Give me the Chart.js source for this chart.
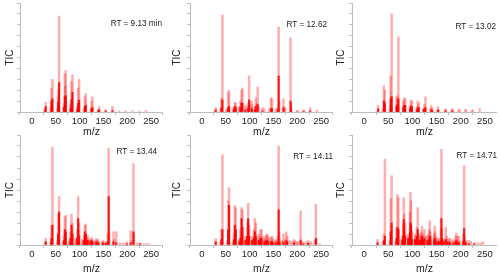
<!DOCTYPE html>
<html>
<head>
<meta charset="utf-8">
<script src="https://cdn.jsdelivr.net/npm/chart.js@4.4.1/dist/chart.umd.min.js"></script>
<style>
  body { margin: 0; width: 500px; height: 275px; background: #fff; position: relative; overflow: hidden;
         font-family: "Liberation Sans", Arial, sans-serif; }
  .panel { position: absolute; }
  .rt { position: absolute; font-size: 8.2px; line-height: 10px; color: #222; white-space: nowrap; transform: translate(-100%, -50%); }
</style>
</head>
<body>
<script>
// retention time of each spectrum
const rtLabels = ['RT = 9.13 min', 'RT = 12.62', 'RT = 13.02', 'RT = 13.44', 'RT = 14.11', 'RT = 14.71'];
const mzTicks = [0, 50, 100, 150, 200, 250];

// [m/z, TIC %] - pale (full height) peaks and the dense dark core below them
const peaks913 = [[27,3],[29,9],[39,4],[41,22],[42,6],[43,30],[53,3],[55,20],[56,14],[57,88],[67,8],[68,5],[69,35],[70,24],[71,38],
  [81,7],[82,5],[83,28],[84,12],[85,34],[95,5],[96,3],[97,22],[98,8],[99,30],[109,3],[111,14],[112,6],[113,17],[123,2],[125,10],
  [126,4],[127,14],[139,2],[140,2],[141,5],[153,1],[155,2],[169,5],[183,1],[197,1.2],[211,1],[225,0.8],[239,1.5]];
const core913 = [[27,1],[29,5],[41,10],[42,3],[43,12],[55,9],[56,6],[57,27],[67,4],[69,14],[70,10],[71,15],[81,3],[83,11],[84,5],
  [85,18],[95,2],[97,8],[98,3],[99,11],[111,5],[113,6],[125,3],[127,4],[139,1],[141,2],[155,1],[169,1.5]];

const peaks1262 = [[27,1],[29,4],[39,3],[41,13],[43,89],[51,2],[53,3],[55,18],[57,20],[65,3],[67,5],[69,9],[71,8],[77,4],[79,5],
  [81,10],[83,20],[85,22],[91,6],[95,5],[97,8],[99,33],[100,6],[104,10],[105,7],[111,5],[113,13],[115,8],[117,23],[119,5],[127,4],
  [131,3],[141,3],[145,13],[147,12],[155,3],[159,4],[161,78],[162,10],[171,12],[173,5],[175,3],[186,68],[187,8],[199,1],[201,1.5],
  [213,2],[215,1],[227,4],[241,1.5]];
const core1262 = [[29,2],[41,4],[43,11],[55,4],[57,5],[67,2],[69,5],[71,4],[81,4],[83,8],[85,8],[91,2],[97,3],[99,11],[105,3],
  [111,2],[113,5],[117,7],[127,1],[145,3],[147,3],[159,2],[161,33],[171,4],[186,10],[187,2],[213,0.5],[227,1]];

const peaks1302 = [[27,1],[29,6],[39,3],[41,24],[42,6],[43,20],[53,3],[55,33],[56,14],[57,90],[67,14],[68,6],[69,15],[70,12],[71,69],
  [81,10],[83,13],[84,6],[85,12],[95,6],[97,11],[98,5],[99,10],[109,4],[111,10],[112,5],[113,8],[123,3],[125,7],[127,14],[137,3],
  [139,6],[141,4],[151,2],[153,5],[155,2],[167,2],[169,3],[181,2],[183,3],[195,1.5],[197,2.5],[209,1.5],[211,2.5],[223,1.5],[225,2],[239,3]];
const core1302 = [[29,3],[41,10],[43,8],[55,12],[56,5],[57,14],[67,5],[69,7],[70,5],[71,12],[81,4],[83,6],[85,6],[95,3],[97,5],
  [99,5],[109,2],[111,4],[113,4],[123,2],[125,3],[127,4],[139,2],[141,1.5],[153,1.5],[169,1],[183,1]];

const peaks1344 = [[27,1],[29,6],[39,3],[41,18],[42,5],[43,89],[53,4],[55,28],[56,10],[57,44],[65,3],[67,8],[69,26],[70,10],[71,27],
  [77,3],[79,5],[81,12],[83,28],[84,14],[85,20],[91,6],[93,4],[95,14],[97,44],[98,12],[99,20],[105,5],[107,4],[109,8],[111,18],
  [112,10],[113,19],[115,7],[117,9],[119,6],[121,4],[123,5],[125,7],[127,5],[131,3],[133,4],[135,6],[137,4],[139,5],[141,3],[147,3],
  [149,4],[153,2],[155,3],[159,10],[161,88],[162,12],[171,12],[173,5],[177,12],[185,2],[191,2],[199,3],[207,13],[209,4],[213,74],
  [214,10],[221,2],[227,2],[235,1],[241,1.5],[247,1]];
const core1344 = [[29,3],[41,6],[43,18],[55,10],[57,30],[67,4],[69,14],[71,12],[81,6],[83,18],[84,8],[85,10],[95,6],[97,24],[99,8],
  [109,4],[111,12],[113,10],[115,4],[117,4],[123,3],[125,4],[127,3],[135,3],[137,2],[139,2],[149,2],[155,1.5],[159,3],[161,44],
  [171,3],[177,2],[199,1],[207,2],[213,12],[227,1]];

const peaks1411 = [[27,1],[29,6],[39,3],[41,14],[42,4],[43,82],[53,4],[55,40],[56,12],[57,52],[65,3],[67,10],[69,36],[70,12],[71,34],
  [77,4],[79,6],[81,14],[83,34],[84,12],[85,32],[91,8],[93,6],[95,20],[96,8],[97,38],[98,14],[99,18],[105,8],[107,6],[109,14],
  [110,8],[111,24],[112,10],[113,20],[115,6],[119,10],[121,8],[123,14],[125,14],[127,8],[131,6],[133,8],[135,9],[137,10],[139,8],
  [141,6],[145,7],[147,8],[149,6],[153,4],[155,5],[159,8],[161,90],[162,12],[163,6],[167,4],[171,10],[175,5],[177,12],[179,8],
  [185,4],[189,3],[193,5],[195,4],[199,3],[201,3],[207,31],[208,5],[213,3],[219,3],[223,4],[225,2],[229,3],[237,4],[239,37],[240,5],[247,1]];
const core1411 = [[29,3],[41,5],[43,14],[55,14],[57,36],[67,5],[69,18],[71,14],[79,3],[81,6],[83,24],[85,16],[91,4],[95,8],[97,24],
  [99,8],[105,4],[109,6],[111,12],[113,8],[119,4],[121,4],[123,6],[125,6],[131,3],[133,3],[135,4],[137,4],[139,3],[145,3],[147,3],
  [149,2],[155,2],[159,3],[161,32],[163,2],[171,3],[177,4],[179,3],[193,2],[207,4],[213,1],[223,1.5],[239,6]];

const peaks1471 = [[27,1],[28,5],[39,3],[41,10],[43,78],[53,4],[55,42],[56,10],[57,63],[65,3],[67,16],[69,46],[70,14],[71,43],[77,5],
  [79,8],[81,18],[82,43],[83,28],[85,20],[91,10],[93,8],[95,30],[96,48],[97,40],[98,14],[99,12],[105,10],[107,8],[109,16],[111,34],
  [112,10],[115,8],[117,10],[119,12],[120,17],[121,10],[123,8],[125,14],[127,8],[131,8],[133,10],[135,14],[136,22],[137,12],[139,8],
  [145,10],[146,17],[147,12],[149,8],[153,6],[155,6],[159,14],[160,87],[161,14],[163,6],[165,5],[169,16],[171,8],[175,6],[178,6],
  [181,4],[185,5],[189,8],[191,11],[193,8],[196,8],[199,4],[205,10],[207,72],[208,8],[211,4],[217,4],[221,3],[228,2.4],[235,2],[241,2],[246,3]];
const core1471 = [[28,2],[41,4],[43,8],[55,12],[57,20],[67,6],[69,16],[71,14],[79,4],[81,8],[82,23],[83,12],[85,8],[91,6],[93,4],
  [95,12],[96,20],[97,18],[99,5],[105,5],[107,4],[109,8],[111,14],[115,4],[117,4],[119,6],[120,8],[121,4],[123,5],[125,6],[131,4],
  [133,4],[135,5],[136,8],[137,5],[145,4],[146,6],[147,5],[149,3],[153,3],[155,3],[159,4],[160,24],[161,5],[165,3],[169,5],[171,3],
  [175,3],[178,2],[185,2],[189,3],[191,4],[193,3],[196,2],[205,3],[207,15],[208,3],[211,2],[217,1],[228,1]];

const spectra = [
  { rt: rtLabels[0], peaks: peaks913,  core: core913 },
  { rt: rtLabels[1], peaks: peaks1262, core: core1262 },
  { rt: rtLabels[2], peaks: peaks1302, core: core1302 },
  { rt: rtLabels[3], peaks: peaks1344, core: core1344 },
  { rt: rtLabels[4], peaks: peaks1411, core: core1411 },
  { rt: rtLabels[5], peaks: peaks1471, core: core1471 },
];

// panel boxes on the page (canvas position, y-axis width, x-axis height, RT text anchor)
const boxes = [
  { left: 0,   top: 0,   w: 163, h: 138, yW: 20, xH: 26, padTop: 3, rtX: 162, rtY: 24 },
  { left: 167, top: 0,   w: 166, h: 138, yW: 23, xH: 26, padTop: 3, rtX: 327, rtY: 25 },
  { left: 331, top: 0,   w: 166, h: 138, yW: 21, xH: 26, padTop: 3, rtX: 496, rtY: 27 },
  { left: 0,   top: 133, w: 163, h: 142, yW: 20, xH: 30, padTop: 2, rtX: 157, rtY: 152 },
  { left: 167, top: 133, w: 166, h: 142, yW: 23, xH: 30, padTop: 2, rtX: 333, rtY: 157 },
  { left: 331, top: 133, w: 166, h: 142, yW: 21, xH: 30, padTop: 2, rtX: 497, rtY: 156 },
];

const axisGrey = '#bdbdbd';
const textCol = '#222';
const fontFam = '"Liberation Sans", Arial, sans-serif';

spectra.forEach((s, i) => {
  const b = boxes[i];
  const wrap = document.createElement('div');
  wrap.className = 'panel';
  wrap.style.left = b.left + 'px';
  wrap.style.top = b.top + 'px';
  wrap.style.width = b.w + 'px';
  wrap.style.height = b.h + 'px';
  const canvas = document.createElement('canvas');
  wrap.appendChild(canvas);
  document.body.appendChild(wrap);

  const rt = document.createElement('div');
  rt.className = 'rt';
  rt.textContent = s.rt;
  rt.style.left = b.rtX + 'px';
  rt.style.top = b.rtY + 'px';
  document.body.appendChild(rt);

  new Chart(canvas, {
    type: 'bar',
    data: {
      datasets: [
        {
          label: 'core',
          data: s.core.map(([x, y]) => ({ x, y })),
          backgroundColor: 'rgba(255,0,0,0.9)',
          barThickness: 1.4,
          grouped: false,
        },
        {
          label: 'TIC',
          data: s.peaks.map(([x, y]) => ({ x, y })),
          backgroundColor: 'rgba(255,40,40,0.38)',
          barThickness: 1.8,
          grouped: false,
        },
      ]
    },
    options: {
      responsive: true,
      maintainAspectRatio: false,
      devicePixelRatio: 1,
      animation: false,
      events: [],
      layout: { padding: { top: b.padTop, right: 0, left: 0, bottom: 0 } },
      plugins: { legend: { display: false }, tooltip: { enabled: false } },
      scales: {
        x: {
          type: 'linear',
          min: -25,
          max: 275,
          offset: false,
          grid: { drawOnChartArea: false, color: axisGrey, tickLength: 3 },
          border: { color: axisGrey },
          afterBuildTicks: (scale) => { scale.ticks = mzTicks.map(v => ({ value: v })); },
          ticks: { autoSkip: false, maxRotation: 0, padding: 1, color: textCol, font: { family: fontFam, size: 9.5 } },
          title: { display: true, text: 'm/z', color: textCol, padding: 0, font: { family: fontFam, size: 10.5 } },
          afterFit: (scale) => { scale.height = b.xH; },
        },
        y: {
          min: 0,
          max: 100,
          grid: { drawOnChartArea: false, color: axisGrey, tickLength: 3 },
          border: { color: axisGrey },
          ticks: { stepSize: 10, display: false },
          title: { display: true, text: 'TIC', color: textCol, padding: { top: 4, bottom: 0 }, font: { family: fontFam, size: 10 } },
          afterFit: (scale) => { scale.width = b.yW; },
        }
      }
    }
  });
});
</script>
</body>
</html>
